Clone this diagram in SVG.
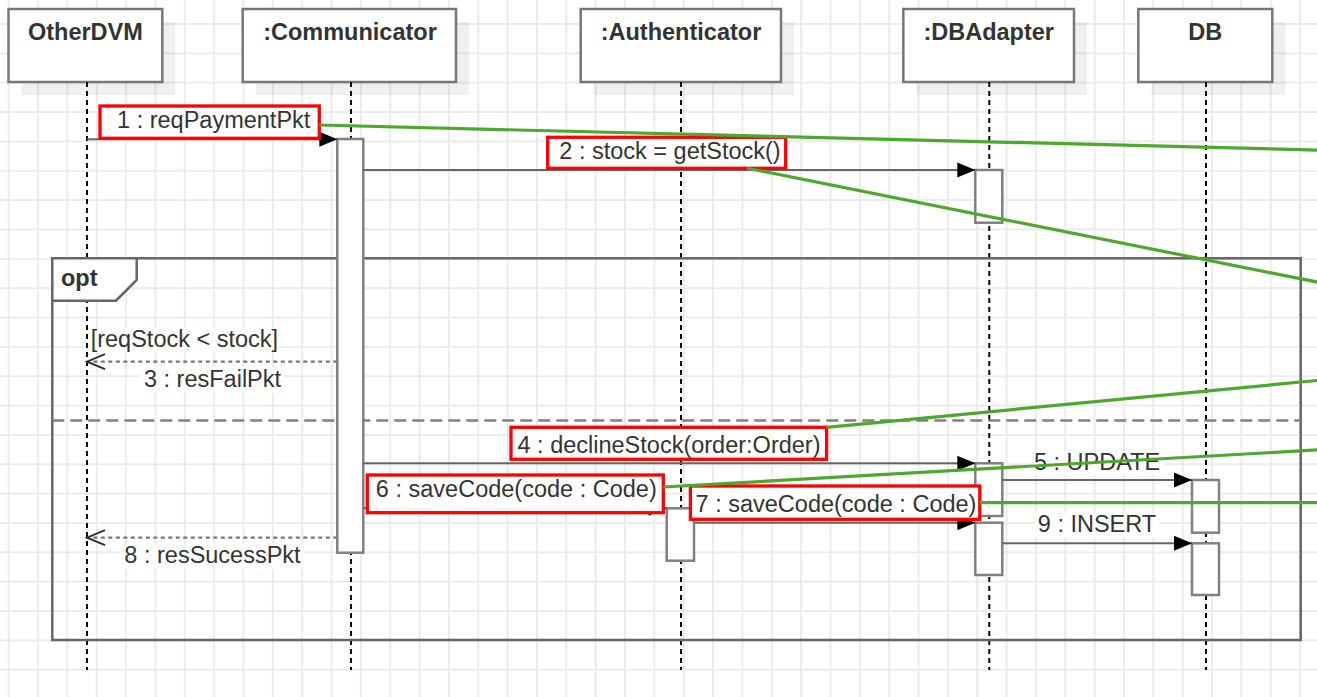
<svg xmlns="http://www.w3.org/2000/svg" width="1317" height="697" viewBox="0 0 1317 697">
<defs>
<pattern id="grid" x="7.7" y="23" width="29.35" height="29.35" patternUnits="userSpaceOnUse">
<path d="M1,0 V29.35 M0,1 H29.35" stroke="#ebebeb" stroke-width="2" fill="none"/>
</pattern>
<marker id="fill" markerWidth="20" markerHeight="16" refX="18" refY="7.5" orient="auto" markerUnits="userSpaceOnUse" overflow="visible">
<path d="M0,0 L18,7.5 L0,15 z" fill="#000"/>
</marker>
<marker id="open" markerWidth="22" markerHeight="18" refX="20" refY="8.5" orient="auto" markerUnits="userSpaceOnUse" overflow="visible">
<path d="M2,1 L20,8.5 L2,16" fill="none" stroke="#333" stroke-width="2"/>
</marker>
<style>
.hdr{fill:#fff;stroke:#777;stroke-width:2.5}
.shadow{fill:#000;fill-opacity:0.06}
.life{stroke:#000;stroke-width:2;stroke-dasharray:5 4}
.act{fill:#fff;stroke:#808080;stroke-width:2.5}
.msg{stroke:#666;stroke-width:2;fill:none}
.ret{stroke:#777;stroke-width:2.2;stroke-dasharray:4 3.5;fill:none}
.t{font-family:"Liberation Sans",Arial,sans-serif;font-size:23.5px;fill:#333}
.b{font-weight:bold}
.m{text-anchor:middle}
.red{fill:#fff;stroke:#f00;stroke-width:3.3}
.bg{fill:#fff}
.green{stroke:#4ea72e;stroke-width:3.2;fill:none}
.frame{fill:none;stroke:#666;stroke-width:2.5}
</style>
</defs>
<rect width="1317" height="697" fill="#fff"/>
<rect width="1317" height="697" fill="url(#grid)"/>

<g id="OtherDVM">
<rect class="shadow" x="21.5" y="22" width="153.8" height="73"/>
<rect class="hdr" x="8.5" y="9" width="153.8" height="73"/>
<text class="t b m" x="85.4" y="40">OtherDVM</text>
<line class="life" x1="87" y1="82" x2="87" y2="670"/>
</g>
<g id="Communicator">
<rect class="shadow" x="255.7" y="22" width="213.3" height="73"/>
<rect class="hdr" x="242.7" y="9" width="213.3" height="73"/>
<text class="t b m" x="350" y="40">:Communicator</text>
<line class="life" x1="351" y1="82" x2="351" y2="670"/>
</g>
<g id="Authenticator">
<rect class="shadow" x="593.7" y="22" width="200.3" height="73"/>
<rect class="hdr" x="580.7" y="9" width="200.3" height="73"/>
<text class="t b m" x="681" y="40">:Authenticator</text>
<line class="life" x1="681" y1="82" x2="681" y2="670"/>
</g>
<g id="DBAdapter">
<rect class="shadow" x="916.3" y="22" width="170.7" height="73"/>
<rect class="hdr" x="903.3" y="9" width="170.7" height="73"/>
<text class="t b m" x="988.7" y="40">:DBAdapter</text>
<line class="life" x1="989.3" y1="82" x2="989.3" y2="670"/>
</g>
<g id="DB">
<rect class="shadow" x="1151.3" y="22" width="134" height="73"/>
<rect class="hdr" x="1138.3" y="9" width="134" height="73"/>
<text class="t b m" x="1205.3" y="40">DB</text>
<line class="life" x1="1206" y1="82" x2="1206" y2="670"/>
</g>

<g id="opt-frame">
<rect class="frame" x="52.3" y="258.3" width="1248.4" height="381.7"/>
<path d="M52.3,258.3 H136.7 V280 L116,300.7 H52.3 Z" fill="#fff" stroke="#666" stroke-width="2.5"/>
<text class="t b" x="61" y="286">opt</text>
<line x1="52.3" y1="420.5" x2="1300.7" y2="420.5" stroke="#808080" stroke-width="2.5" stroke-dasharray="12 6"/>
</g>

<g id="activations">
<rect class="act" x="337.3" y="139" width="26" height="413.7"/>
<rect class="act" x="975.3" y="170" width="27" height="52.7"/>
<rect class="act" x="975.3" y="463.3" width="27" height="52.7"/>
<rect class="act" x="975.3" y="522.7" width="27" height="52.3"/>
<rect class="act" x="666.7" y="508.3" width="27.3" height="52.4"/>
<rect class="act" x="1192" y="480" width="27" height="52.7"/>
<rect class="act" x="1192" y="543.3" width="27" height="51.7"/>
</g>

<g id="connectors">
<line class="msg" x1="87" y1="139.3" x2="337.3" y2="139.3" marker-end="url(#fill)"/>
<line class="msg" x1="363.3" y1="170" x2="975.3" y2="170" marker-end="url(#fill)"/>
<line class="ret" x1="337.3" y1="361.7" x2="87" y2="361.7" marker-end="url(#open)"/>
<line class="msg" x1="363.3" y1="463.3" x2="975.3" y2="463.3" marker-end="url(#fill)"/>
<line class="msg" x1="1002.3" y1="480" x2="1192" y2="480" marker-end="url(#fill)"/>
<line class="msg" x1="363.3" y1="508.3" x2="666.7" y2="508.3" marker-end="url(#fill)"/>
<line class="msg" x1="694" y1="522.7" x2="975.3" y2="522.7" marker-end="url(#fill)"/>
<line class="ret" x1="337.3" y1="537.7" x2="87" y2="537.7" marker-end="url(#open)"/>
<line class="msg" x1="1002.3" y1="543.3" x2="1192" y2="543.3" marker-end="url(#fill)"/>
</g>

<g id="labels">
<rect class="red" x="100" y="106" width="219.3" height="32.3"/>
<text class="t m" x="213.7" y="128.3">1 : reqPaymentPkt</text>
<rect class="red" x="547.7" y="137.3" width="238" height="31"/>
<text class="t m" x="670" y="159.3">2 : stock = getStock()</text>
<rect class="bg" x="89" y="328" width="192" height="24"/>
<text class="t" x="90.7" y="347">[reqStock &lt; stock]</text>
<rect class="bg" x="141" y="367" width="143" height="26"/>
<text class="t m" x="212.5" y="386.7">3 : resFailPkt</text>
<rect class="red" x="511" y="427.3" width="315.6" height="32"/>
<text class="t m" x="669" y="453">4 : declineStock(order:Order)</text>
<rect class="bg" x="1031" y="451" width="132" height="24"/>
<text class="t m" x="1097" y="470">5 : UPDATE</text>
<rect class="red" x="367.3" y="475" width="296" height="37.7"/>
<text class="t m" x="516.3" y="496.7">6 : saveCode(code : Code)</text>
<rect class="red" x="690.4" y="486" width="289.4" height="33.3"/>
<text class="t m" x="836" y="511.7">7 : saveCode(code : Code)</text>
<rect class="bg" x="1035" y="513" width="124" height="24"/>
<text class="t m" x="1097" y="531.7">9 : INSERT</text>
<rect class="bg" x="121" y="544" width="183" height="25"/>
<text class="t m" x="212.5" y="563.3">8 : resSucessPkt</text>
</g>

<g id="annotations">
<line class="green" x1="319.3" y1="125" x2="1320" y2="150.1"/>
<line class="green" x1="747.3" y1="168.3" x2="1320" y2="282.6"/>
<line class="green" x1="826.6" y1="427.3" x2="1320" y2="380.2"/>
<line class="green" x1="663.3" y1="487" x2="1320" y2="449.8"/>
<line class="green" x1="979.8" y1="502.7" x2="1320" y2="502.7"/>
</g>
</svg>
